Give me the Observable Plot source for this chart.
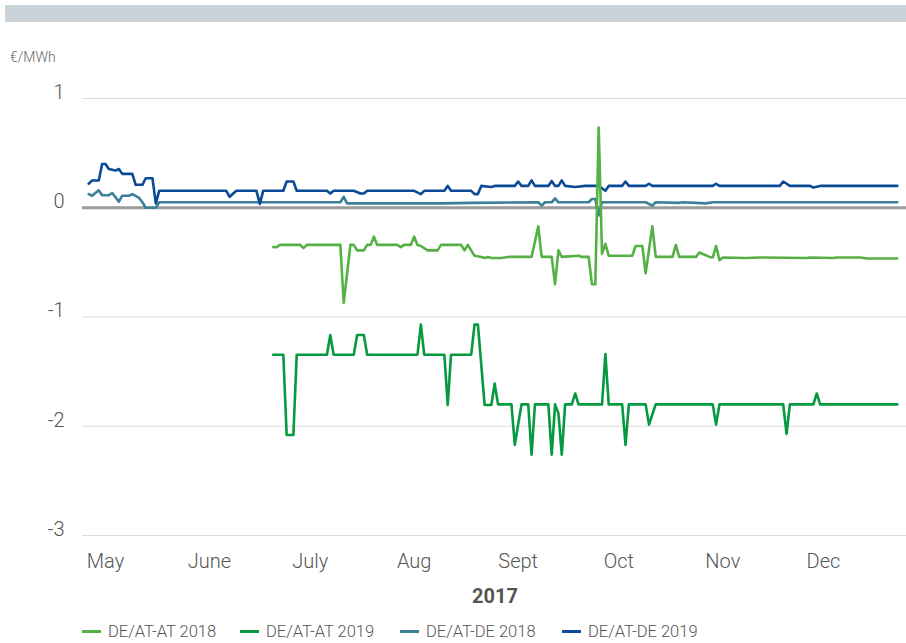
<!DOCTYPE html>
<html>
<head>
<meta charset="utf-8">
<script src="https://cdn.jsdelivr.net/npm/d3@7"></script>
<script src="https://cdn.jsdelivr.net/npm/@observablehq/plot@0.6"></script>
<style>
  body { margin: 0; background: #fff; font-family: Roboto, "Liberation Sans", sans-serif; }
  #wrap { position: relative; width: 906px; height: 643px; overflow: hidden; background: #fff; }
  #bar { position: absolute; left: 5px; top: 5px; width: 901px; height: 17px; background: #c9d2d8; }
  #unit { position: absolute; left: 10px; top: 49px; font-size: 14px; color: #666; font-weight: 300; }
  #chart { position: absolute; left: 0; top: 0; }
  #chart svg text { font-weight: 300; }
  #year { position: absolute; left: 445px; width: 100px; top: 584px; text-align: center; font-size: 20px; font-weight: 700; color: #555; }
  .leg { position: absolute; top: 622px; display: flex; align-items: center; font-size: 16.5px; color: #555; font-weight: 300; white-space: nowrap; }
  .sw { width: 19px; height: 3px; margin-right: 7px; }
</style>
</head>
<body>
<div id="wrap">
  <div id="bar"></div>
  <div id="unit">€/MWh</div>
  <div id="chart"></div>
  <div id="year"></div>
  <div id="legendBox"></div>
</div>
<script>
// ---- data ----
const yearLabel = "2017";
const unitLabel = "€/MWh";
const seriesNames = ["DE/AT-AT 2018", "DE/AT-AT 2019", "DE/AT-DE 2018", "DE/AT-DE 2019"];
const seriesColors = ["#55b146", "#059a3f", "#3c7f98", "#0a4a96"];
const monthTicks = ["2017-05-01", "2017-06-01", "2017-07-01", "2017-08-01", "2017-09-01", "2017-10-01", "2017-11-01", "2017-12-01"];
const monthLabels = ["May", "June", "July", "Aug", "Sept", "Oct", "Nov", "Dec"];
const yTicks = [1, 0, -1, -2, -3];
const yTickLabels = ["1", "0", "-1", "-2", "-3"];

// DE/AT-AT 2018
const atAt2018Dates = ["06-20","06-21","06-22","06-28","06-29","06-30","07-10","07-11","07-13","07-14","07-15","07-17","07-18","07-19","07-20","07-21","07-27","07-28","07-29","07-31","08-01","08-02","08-03","08-05","08-08","08-09","08-15","08-16","08-17","08-19","08-21","08-22","08-23","08-24","08-27","08-29","09-05","09-07","09-08","09-11","09-12","09-13","09-14","09-19","09-20","09-22","09-23","09-24","09-25","09-26","09-27","09-28","10-05","10-06","10-08","10-09","10-11","10-12","10-17","10-18","10-19","10-24","10-25","10-28","10-29","10-30","10-31","11-01","11-08","11-12","11-26","11-27","12-04","12-05","12-12","12-14","12-23"];
const atAt2018Values = [-0.36,-0.36,-0.34,-0.34,-0.37,-0.34,-0.34,-0.87,-0.34,-0.34,-0.39,-0.39,-0.34,-0.34,-0.265,-0.34,-0.34,-0.36,-0.34,-0.34,-0.265,-0.34,-0.35,-0.39,-0.39,-0.34,-0.34,-0.39,-0.34,-0.44,-0.45,-0.46,-0.45,-0.46,-0.46,-0.45,-0.45,-0.17,-0.45,-0.45,-0.70,-0.39,-0.45,-0.44,-0.45,-0.45,-0.70,-0.70,0.735,-0.42,-0.33,-0.44,-0.44,-0.35,-0.35,-0.60,-0.17,-0.45,-0.45,-0.34,-0.45,-0.45,-0.41,-0.45,-0.455,-0.35,-0.48,-0.455,-0.46,-0.455,-0.46,-0.455,-0.46,-0.455,-0.455,-0.465,-0.465];

// DE/AT-AT 2019
const atAt2019Dates = ["06-20","06-23","06-24","06-26","06-27","07-06","07-07","07-08","07-14","07-15","07-17","07-18","08-02","08-03","08-04","08-10","08-11","08-12","08-18","08-19","08-20","08-22","08-24","08-25","08-26","08-30","08-31","09-02","09-04","09-05","09-06","09-10","09-11","09-12","09-13","09-14","09-15","09-17","09-18","09-19","09-26","09-27","09-28","10-02","10-03","10-04","10-09","10-10","10-12","10-29","10-30","10-31","11-19","11-20","11-21","11-28","11-29","11-30","12-23"];
const atAt2019Values = [-1.345,-1.345,-2.08,-2.08,-1.345,-1.345,-1.165,-1.345,-1.345,-1.165,-1.165,-1.345,-1.345,-1.07,-1.345,-1.345,-1.805,-1.345,-1.345,-1.07,-1.07,-1.805,-1.805,-1.61,-1.80,-1.80,-2.17,-1.80,-1.80,-2.26,-1.80,-1.80,-2.26,-1.80,-1.88,-2.26,-1.80,-1.80,-1.70,-1.80,-1.80,-1.34,-1.80,-1.80,-2.17,-1.80,-1.80,-1.985,-1.80,-1.80,-1.985,-1.80,-1.80,-2.07,-1.80,-1.80,-1.70,-1.80,-1.80];

// DE/AT-DE 2018
const atDe2018Dates = ["04-26","04-27","04-29","04-30","05-02","05-03","05-05","05-06","05-08","05-09","05-11","05-12","05-13","05-16","05-17","07-10","07-11","07-12","08-09","08-18","09-07","09-08","09-09","09-11","09-12","09-13","09-22","09-23","09-24","09-25","09-26","10-09","10-11","10-12","10-19","10-20","10-27","10-29","12-23"];
const atDe2018Values = [0.125,0.11,0.16,0.115,0.115,0.135,0.055,0.11,0.11,0.125,0.09,0.05,0.0,0.0,0.05,0.05,0.10,0.04,0.04,0.045,0.05,0.02,0.05,0.05,0.085,0.05,0.05,0.08,0.08,-0.07,0.05,0.05,0.02,0.05,0.045,0.05,0.04,0.05,0.05];

// DE/AT-DE 2019
const atDe2019Dates = ["04-26","04-27","04-29","04-30","05-01","05-02","05-04","05-05","05-06","05-09","05-10","05-12","05-13","05-15","05-16","05-17","06-06","06-07","06-09","06-15","06-16","06-17","06-23","06-24","06-26","06-27","07-06","07-07","07-08","07-14","07-16","07-17","07-18","08-01","08-03","08-04","08-10","08-11","08-12","08-18","08-19","08-20","08-21","08-24","08-25","08-31","09-01","09-02","09-04","09-05","09-06","09-10","09-11","09-12","09-13","09-14","09-15","09-18","09-21","09-25","09-27","09-28","10-02","10-03","10-04","10-09","10-10","10-11","10-29","10-30","10-31","11-18","11-19","11-21","11-27","11-28","11-30","12-23"];
const atDe2019Values = [0.22,0.25,0.25,0.40,0.40,0.355,0.34,0.355,0.31,0.31,0.21,0.21,0.27,0.27,0.04,0.155,0.155,0.10,0.155,0.155,0.035,0.155,0.155,0.24,0.24,0.155,0.155,0.13,0.155,0.155,0.13,0.13,0.155,0.155,0.125,0.155,0.155,0.20,0.155,0.155,0.125,0.125,0.20,0.19,0.20,0.20,0.24,0.20,0.20,0.25,0.20,0.20,0.245,0.20,0.20,0.25,0.20,0.19,0.20,0.20,0.155,0.20,0.20,0.24,0.20,0.20,0.22,0.20,0.20,0.22,0.20,0.20,0.24,0.20,0.20,0.185,0.20,0.20];

// ---- build ----
const toDate = s => new Date("2017-" + s + "T00:00:00Z");
const mk = (dates, values) => dates.map((d, i) => ({date: toDate(d), value: values[i]}));
const sAt18 = mk(atAt2018Dates, atAt2018Values);
const sAt19 = mk(atAt2019Dates, atAt2019Values);
const sDe18 = mk(atDe2018Dates, atDe2018Values);
const sDe19 = mk(atDe2019Dates, atDe2019Values);

const tickDates = monthTicks.map(s => new Date(s + "T00:00:00Z"));
const monthMap = new Map(tickDates.map((d, i) => [+d, monthLabels[i]]));
const yMap = new Map(yTicks.map((v, i) => [v, yTickLabels[i]]));

const lineOpts = (c) => ({x: "date", y: "value", stroke: c, strokeWidth: 2.6, curve: "linear", strokeLinejoin: "round"});

const chart = Plot.plot({
  width: 906,
  height: 580,
  marginLeft: 82,
  marginRight: 0,
  marginTop: 98,
  marginBottom: 45,
  style: {fontFamily: "Roboto, 'Liberation Sans', sans-serif", fontSize: "20px", color: "#555", background: "transparent", overflow: "visible"},
  x: {type: "utc", domain: [new Date("2017-04-24T03:30:00Z"), new Date("2017-12-25T18:00:00Z")]},
  y: {domain: [-3, 1]},
  marks: [
    Plot.gridY(yTicks, {stroke: "#dcdcdc", strokeOpacity: 1, strokeWidth: 1}),
    Plot.ruleY([0], {stroke: "#9a9a9a", strokeWidth: 3}),
    Plot.axisY(yTicks, {tickSize: 0, tickPadding: 18, dy: -6, tickFormat: v => yMap.get(v), label: null, fontSize: 20, fill: "#555"}),
    Plot.axisX(tickDates, {tickSize: 0, tickPadding: 18, tickFormat: d => monthMap.get(+d), label: null, fontSize: 20, fill: "#555"}),
    Plot.line(sDe18, lineOpts(seriesColors[2])),
    Plot.line(sDe19, lineOpts(seriesColors[3])),
    Plot.line(sAt19, lineOpts(seriesColors[1])),
    Plot.line(sAt18, lineOpts(seriesColors[0]))
  ]
});
document.getElementById("chart").appendChild(chart);
document.getElementById("unit").textContent = unitLabel;
document.getElementById("year").textContent = yearLabel;

const legendLefts = [82, 240, 400, 562];
const box = document.getElementById("legendBox");
seriesNames.forEach((name, i) => {
  const item = document.createElement("div");
  item.className = "leg";
  item.style.left = legendLefts[i] + "px";
  const sw = document.createElement("span");
  sw.className = "sw";
  sw.style.background = seriesColors[i];
  const t = document.createElement("span");
  t.textContent = name;
  item.appendChild(sw);
  item.appendChild(t);
  box.appendChild(item);
});
</script>
</body>
</html>
